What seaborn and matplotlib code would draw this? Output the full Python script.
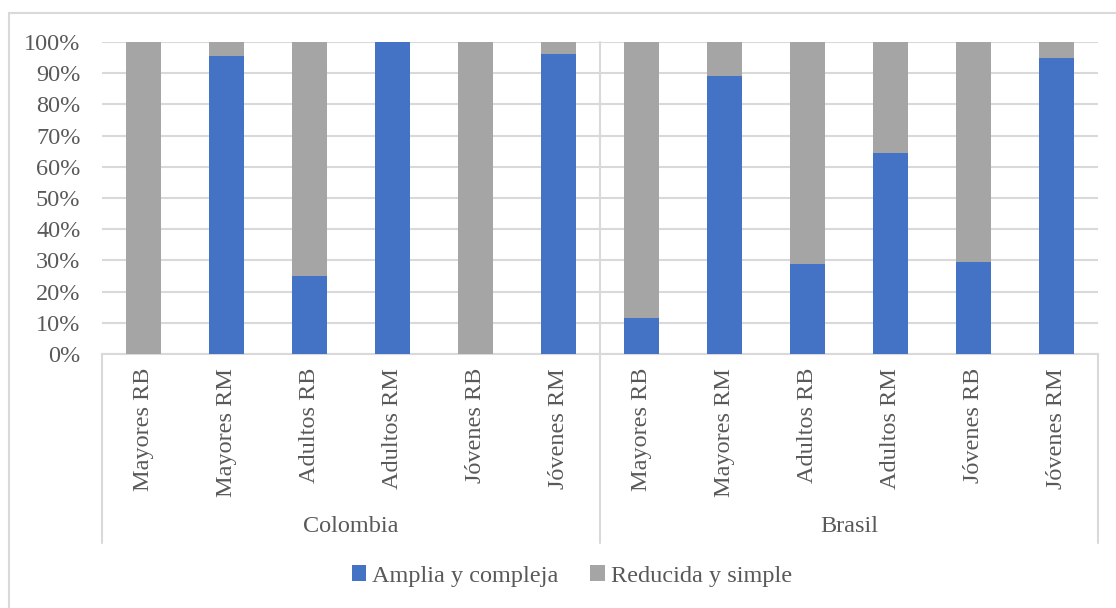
import matplotlib
matplotlib.use("Agg")
import matplotlib.pyplot as plt
import seaborn as sns
import pandas as pd
from matplotlib.patches import Patch
from matplotlib.lines import Line2D

countries = ["Colombia", "Brasil"]
groups = ["Mayores RB", "Mayores RM", "Adultos RB", "Adultos RM", "Jóvenes RB", "Jóvenes RM"]
colombia_amplia = [0, 95.5, 25, 100, 0, 96]
brasil_amplia = [11.5, 89, 29, 64.5, 29.5, 95]
series_names = ["Amplia y compleja", "Reducida y simple"]
yticks = [0, 10, 20, 30, 40, 50, 60, 70, 80, 90, 100]

rows = []
for c, vals in zip(countries, [colombia_amplia, brasil_amplia]):
    for g, v in zip(groups, vals):
        rows.append({"key": f"{c}|{g}", "country": c, "group": g,
                     "amplia": v, "reducida": 100 - v, "total": 100})
df = pd.DataFrame(rows)
order = list(df["key"])

sns.set_style("white")
plt.rcParams["font.family"] = ["Liberation Serif", "DejaVu Serif"]

W, H = 1116, 608
fig = plt.figure(figsize=(W / 100, H / 100), dpi=100)
ax = fig.add_axes([102 / W, (H - 354) / H, 996 / W, 312 / H])

blue = "#4472C4"
gray = "#A5A5A5"
txt = "#595959"
line = "#D9D9D9"
fs = 17.5

sns.barplot(data=df, x="key", y="total", order=order, color=gray, width=0.41,
            saturation=1, ax=ax, zorder=3, linewidth=0)
sns.barplot(data=df, x="key", y="amplia", order=order, color=blue, width=0.41,
            saturation=1, ax=ax, zorder=4, linewidth=0)

ax.set_ylim(0, 100)
ax.set_xlim(-0.5, len(order) - 0.5)
ax.set_yticks(yticks)
ax.set_yticklabels([f"{t}%" for t in yticks], fontsize=fs, color=txt)
ax.yaxis.grid(True, color=line, linewidth=1.5, zorder=0)
ax.set_axisbelow(True)
ax.tick_params(axis="y", length=0, pad=15.5)
ax.set_xticks(range(len(order)))
ax.set_xticklabels(list(df["group"]), rotation=90, fontsize=fs, color=txt, va="top")
ax.tick_params(axis="x", length=0, pad=10)
ax.set_xlabel("")
ax.set_ylabel("")
for s in ["top", "right", "left"]:
    ax.spines[s].set_visible(False)
ax.spines["bottom"].set_color(line)
ax.spines["bottom"].set_linewidth(1.5)

# group separators and labels
ybot = (354 - 543) / 312
for xpos, ytop in [(-0.5, 0), (5.5, 1), (11.5, 0)]:
    ax.plot([xpos, xpos], [ybot, ytop], transform=ax.get_xaxis_transform(),
            color=line, linewidth=1.5, clip_on=False, zorder=1)
for i, c in enumerate(countries):
    ax.text(i * 6 + 2.5, (354 - 527) / 312, c, transform=ax.get_xaxis_transform(),
            ha="center", va="center", fontsize=fs, color=txt)

handles = [Patch(facecolor=blue, edgecolor="none"), Patch(facecolor=gray, edgecolor="none")]
fig.legend(handles, series_names, loc="center", bbox_to_anchor=(572 / W, (H - 576) / H),
           ncol=2, frameon=False, fontsize=fs, labelcolor=txt, handlelength=0.6,
           handleheight=0.6, handletextpad=0.25, columnspacing=1.3)

# outer chart border (left and top visible)
fig.add_artist(Line2D([9 / W, 9 / W], [0, (H - 13) / H], transform=fig.transFigure,
                      color=line, linewidth=1.5))
fig.add_artist(Line2D([9 / W, 1], [(H - 13) / H, (H - 13) / H], transform=fig.transFigure,
                      color=line, linewidth=1.5))

fig.savefig("out.png", dpi=100, facecolor="white")
